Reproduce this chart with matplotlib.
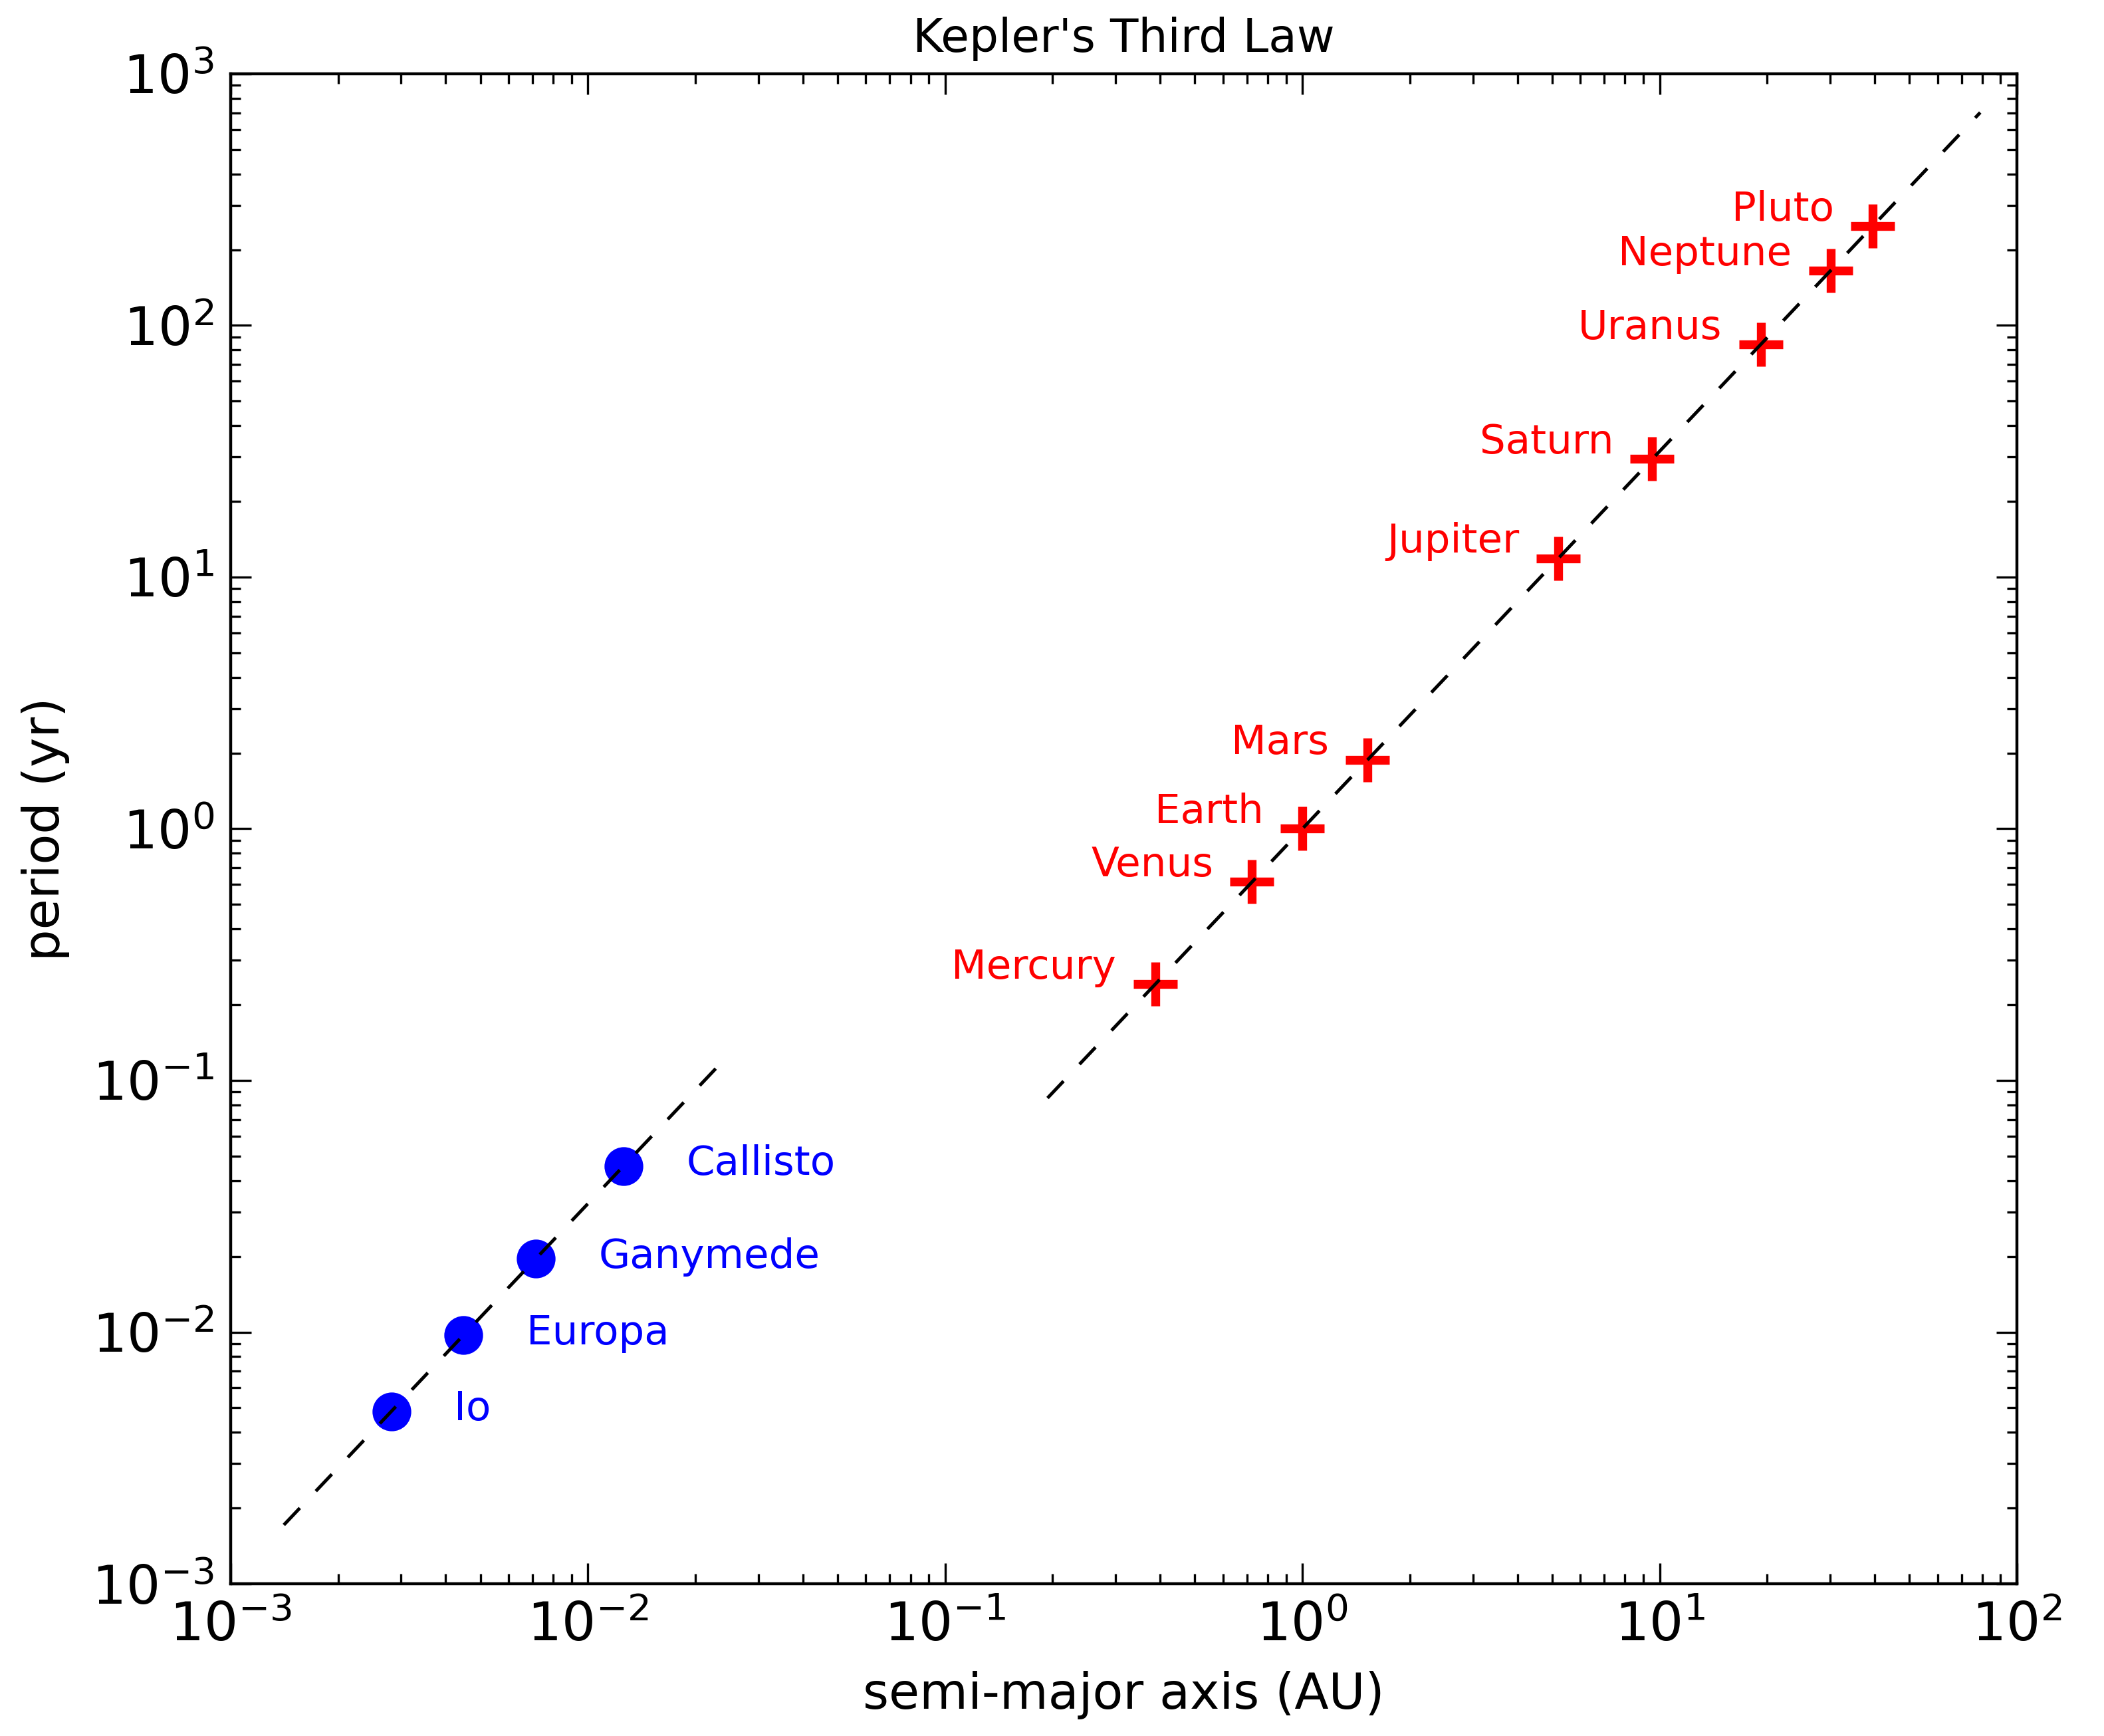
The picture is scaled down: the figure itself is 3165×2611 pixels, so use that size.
import numpy as np
import matplotlib
matplotlib.use("Agg")
import matplotlib.pyplot as plt

# planets: semi-major axis (AU) and period (yr)
planet_names = ["Mercury", "Venus", "Earth", "Mars", "Jupiter",
                "Saturn", "Uranus", "Neptune", "Pluto"]
planet_a = [0.387, 0.723, 1.0, 1.524, 5.203, 9.537, 19.19, 30.07, 39.48]
planet_p = [0.241, 0.615, 1.0, 1.881, 11.86, 29.45, 84.02, 164.8, 248.0]

# galilean moons of Jupiter
moon_names = ["Io", "Europa", "Ganymede", "Callisto"]
moon_a = [0.002819, 0.004486, 0.007155, 0.01258]
moon_p = [0.004843, 0.009722, 0.01959, 0.04569]

# P^2 = a^3 / M  (M in solar masses)
m_jupiter = 1.0 / 1047.6

plt.rcParams['font.family'] = ['DejaVu Sans']
plt.rcParams['mathtext.default'] = 'regular'

fig = plt.figure(figsize=(3165 / 200, 2611 / 200), dpi=200)
ax = fig.add_axes([0.1096, 0.0877, 0.849, 0.8698])

ax.plot(planet_a, planet_p, ls='none', marker='+', ms=24, mew=4.8,
        color='red', zorder=2)
ax.plot(moon_a, moon_p, ls='none', marker='o', ms=21, mew=0,
        color='blue', zorder=2)

# fit lines, from half the smallest orbit to twice the largest
a_pl = np.logspace(np.log10(min(planet_a) / 2), np.log10(max(planet_a) * 2), 50)
a_mo = np.logspace(np.log10(min(moon_a) / 2), np.log10(max(moon_a) * 2), 50)
ax.plot(a_pl, a_pl ** 1.5, color='black', lw=1.8, dashes=(7, 7), zorder=3)
ax.plot(a_mo, a_mo ** 1.5 / np.sqrt(m_jupiter), color='black', lw=1.8,
        dashes=(7, 7), zorder=3)

for name, a, p in zip(planet_names, planet_a, planet_p):
    ax.annotate(name, (a, p), xytext=(-21, 9), textcoords='offset points',
                ha='right', va='center', color='red', fontsize=22)
for name, a, p in zip(moon_names, moon_a, moon_p):
    ax.annotate(name, (a, p), xytext=(34, 1), textcoords='offset points',
                ha='left', va='center', color='blue', fontsize=22)

ax.set_xscale('log')
ax.set_yscale('log')
ax.set_xlim(1e-3, 1e2)
ax.set_ylim(1e-3, 1e3)

ax.tick_params(which='both', direction='in', top=True, right=True, width=1.2)
ax.tick_params(which='major', length=11, labelsize=29, pad=9)
ax.tick_params(which='minor', length=5.5)
for s in ax.spines.values():
    s.set_linewidth(1.6)

ax.set_title("Kepler's Third Law", fontsize=25, pad=12)
ax.set_xlabel("semi-major axis (AU)", fontsize=27, labelpad=10)
ax.set_ylabel("period (yr)", fontsize=27, labelpad=12)

fig.savefig("out.png", dpi=200)
